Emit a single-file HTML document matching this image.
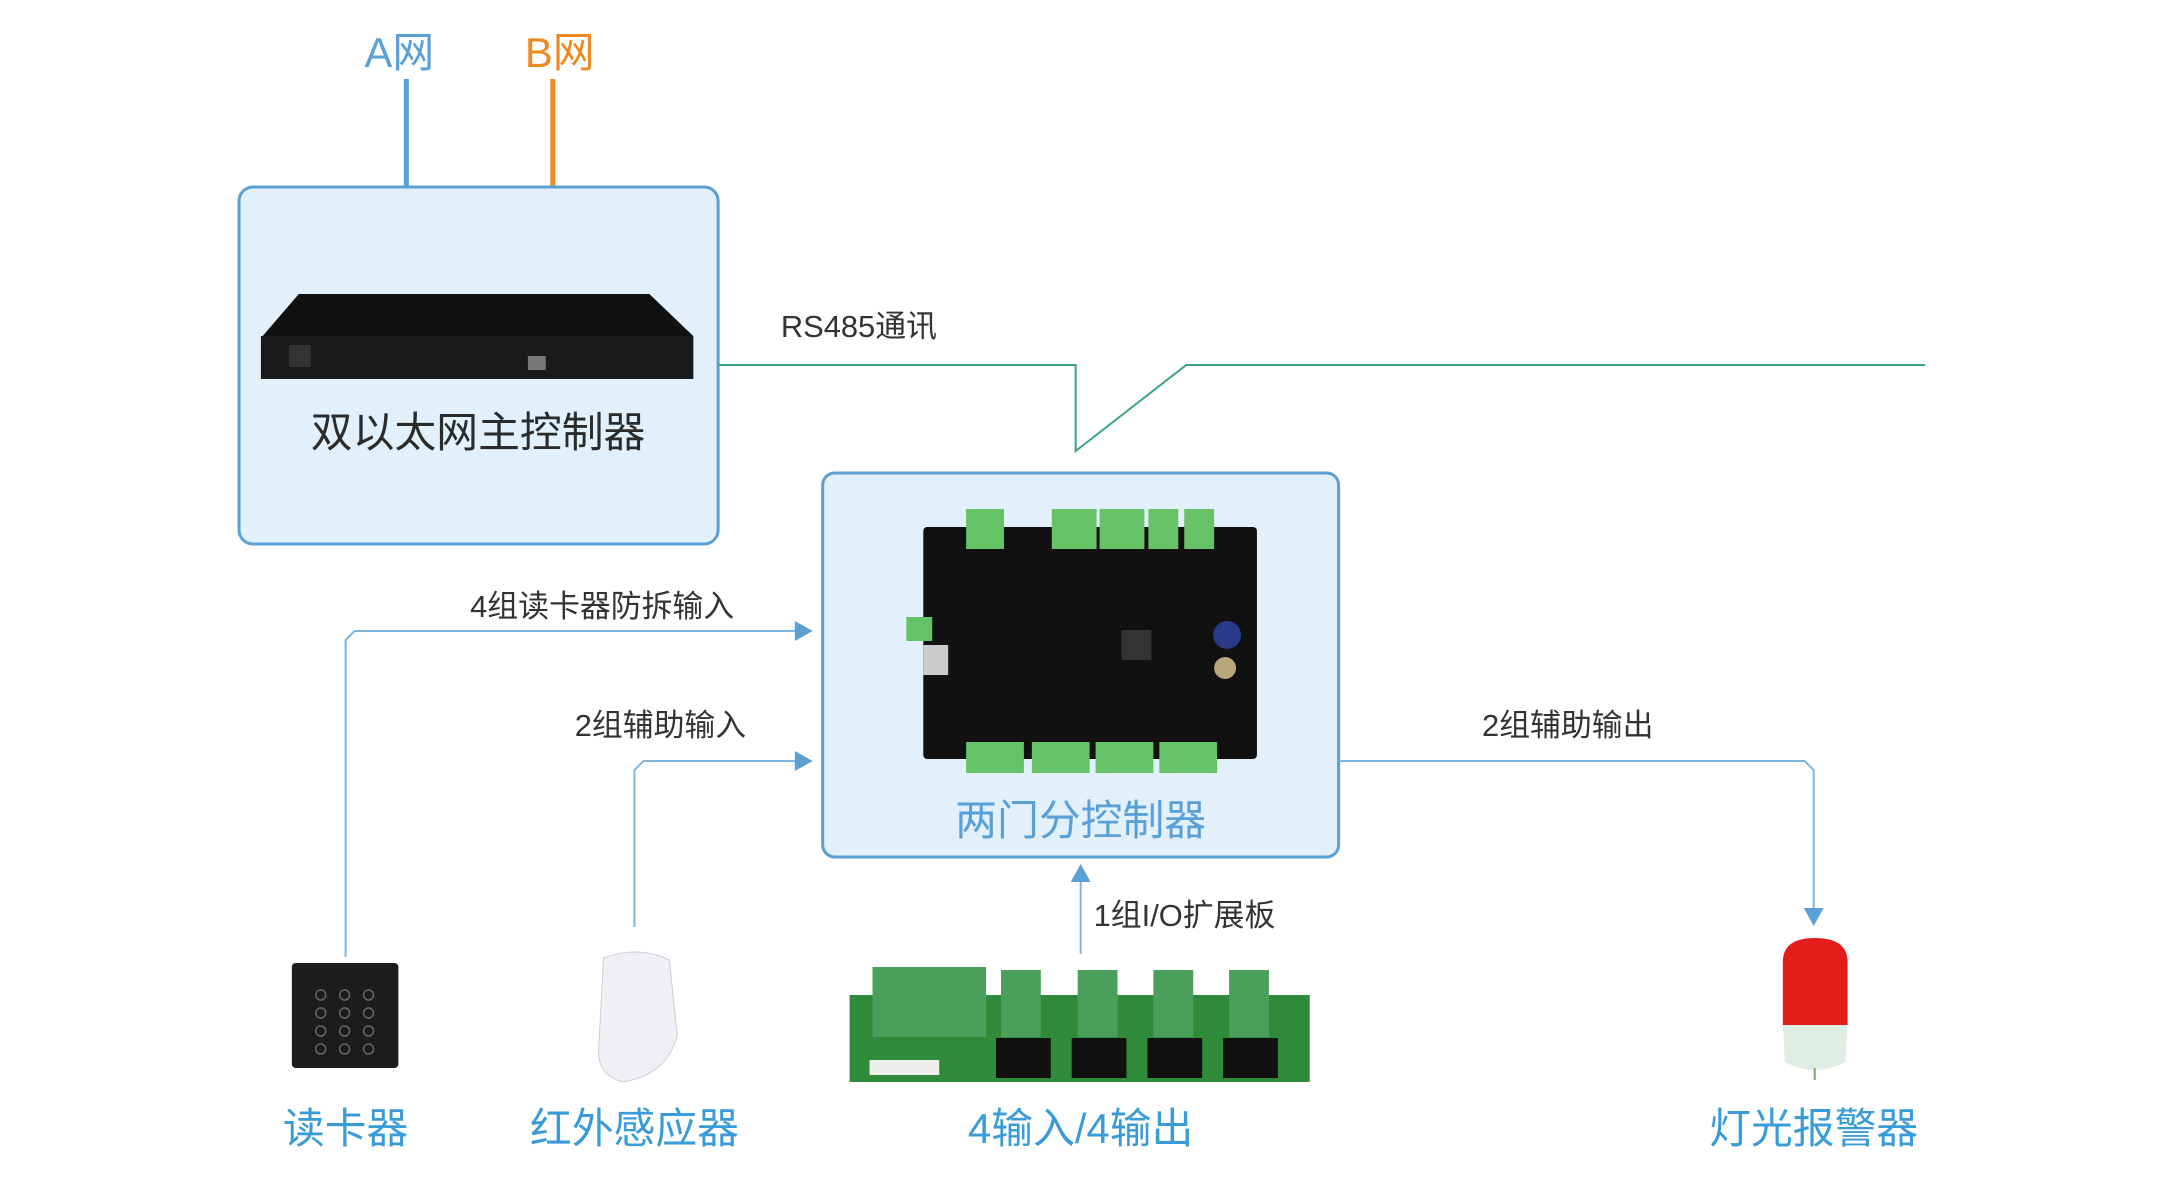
<!DOCTYPE html>
<html><head><meta charset="utf-8"><style>
html,body{margin:0;padding:0;background:#fff;}
svg{display:block;}
text{font-family:"Liberation Sans","Noto Sans CJK SC",sans-serif;}
</style></head><body>
<svg width="2164" height="1182" viewBox="0 0 2164 1182" xmlns="http://www.w3.org/2000/svg">
<g transform="scale(0.996,1)">
<!-- A/B net -->
<text x="401" y="67" font-size="42" fill="#5a9fd6" text-anchor="middle">A网</text>
<text x="562" y="67" font-size="42" fill="#ee8a22" text-anchor="middle">B网</text>
<line x1="408" y1="79" x2="408" y2="186" stroke="#5a9fd6" stroke-width="5"/>
<line x1="555" y1="79" x2="555" y2="186" stroke="#ee8a22" stroke-width="5"/>
<!-- main box -->
<rect x="240" y="187" width="481" height="357" rx="14" fill="#e1f0fb" stroke="#5a9fd6" stroke-width="3"/>
<polygon points="300,294 652,294 696,336 696,379 262,379 262,338" fill="#111"/>
<rect x="262" y="336" width="434" height="43" fill="#1a1a1a"/>
<rect x="290" y="345" width="22" height="22" fill="#333"/>
<rect x="530" y="356" width="18" height="14" fill="#777"/>
<text x="480" y="447" font-size="42" fill="#2b2b2b" text-anchor="middle">双以太网主控制器</text>
<!-- RS485 -->
<text x="784" y="337" font-size="31" fill="#333">RS485通讯</text>
<polyline points="721,365 1080,365 1080,451 1191,365 1933,365" fill="none" stroke="#3aa57a" stroke-width="2"/>
<!-- sub box -->
<rect x="826" y="473" width="518" height="384" rx="12" fill="#e1f0fb" stroke="#5a9fd6" stroke-width="3"/>
<rect x="927" y="527" width="335" height="232" rx="4" fill="#111"/>
<g fill="#66c266">
<rect x="970" y="509" width="38" height="40"/><rect x="1056" y="509" width="45" height="40"/><rect x="1104" y="509" width="45" height="40"/><rect x="1153" y="509" width="30" height="40"/><rect x="1189" y="509" width="30" height="40"/>
<rect x="970" y="742" width="58" height="31"/><rect x="1036" y="742" width="58" height="31"/><rect x="1100" y="742" width="58" height="31"/><rect x="1164" y="742" width="58" height="31"/>
<rect x="910" y="617" width="26" height="24"/>
</g>
<rect x="927" y="645" width="25" height="30" fill="#ccc"/>
<rect x="1126" y="630" width="30" height="30" fill="#333"/>
<circle cx="1232" cy="635" r="14" fill="#2a3a8a"/><circle cx="1230" cy="668" r="11" fill="#b9a779"/>
<text x="1085" y="835" font-size="42" fill="#5aa0d8" text-anchor="middle">两门分控制器</text>
<!-- input lines -->
<text x="472" y="617" font-size="31" fill="#333">4组读卡器防拆输入</text>
<polyline points="347,957 347,640 356,631 800,631" fill="none" stroke="#7db4e0" stroke-width="2"/>
<polygon points="798,621 816,631 798,641" fill="#5a9fd6"/>
<text x="577" y="736" font-size="31" fill="#333">2组辅助输入</text>
<polyline points="637,927 637,770 646,761 800,761" fill="none" stroke="#7db4e0" stroke-width="2"/>
<polygon points="798,751 816,761 798,771" fill="#5a9fd6"/>
<text x="1488" y="736" font-size="31" fill="#333">2组辅助输出</text>
<polyline points="1344,761 1812,761 1821,770 1821,910" fill="none" stroke="#7db4e0" stroke-width="2"/>
<polygon points="1811,908 1831,908 1821,926" fill="#5a9fd6"/>
<text x="1098" y="926" font-size="31" fill="#333">1组I/O扩展板</text>
<line x1="1085" y1="954" x2="1085" y2="880" stroke="#7db4e0" stroke-width="2"/>
<polygon points="1075,882 1095,882 1085,864" fill="#5a9fd6"/>
<!-- keypad -->
<rect x="293" y="963" width="107" height="105" rx="4" fill="#1c1c1c"/>
<g fill="none" stroke="#666" stroke-width="1.5">
<circle cx="322" cy="995" r="5"/><circle cx="346" cy="995" r="5"/><circle cx="370" cy="995" r="5"/>
<circle cx="322" cy="1013" r="5"/><circle cx="346" cy="1013" r="5"/><circle cx="370" cy="1013" r="5"/>
<circle cx="322" cy="1031" r="5"/><circle cx="346" cy="1031" r="5"/><circle cx="370" cy="1031" r="5"/>
<circle cx="322" cy="1049" r="5"/><circle cx="346" cy="1049" r="5"/><circle cx="370" cy="1049" r="5"/>
</g>
<!-- PIR -->
<path d="M606,958 Q640,945 672,960 L680,1035 Q670,1075 625,1082 Q600,1075 601,1050 Z" fill="#eef0f4" stroke="#ccd" stroke-width="1"/>
<!-- IO board -->
<rect x="853" y="995" width="462" height="87" fill="#2f8a3a"/>
<g fill="#4aa05a">
<rect x="876" y="967" width="114" height="70"/><rect x="1005" y="970" width="40" height="67"/><rect x="1082" y="970" width="40" height="67"/><rect x="1158" y="970" width="40" height="67"/><rect x="1234" y="970" width="40" height="67"/>
</g>
<g fill="#111">
<rect x="1000" y="1038" width="55" height="40"/><rect x="1076" y="1038" width="55" height="40"/><rect x="1152" y="1038" width="55" height="40"/><rect x="1228" y="1038" width="55" height="40"/>
</g>
<rect x="873" y="1060" width="70" height="15" fill="#eee"/>
<!-- alarm light -->
<path d="M1790,1000 L1790,962 Q1790,938 1822,938 Q1855,938 1855,962 L1855,1025 L1790,1025 Z" fill="#e51c1c"/>
<path d="M1790,1025 L1855,1025 L1853,1062 Q1822,1078 1792,1062 Z" fill="#dfeee2"/>
<line x1="1822" y1="1068" x2="1822" y2="1080" stroke="#7a6" stroke-width="2"/>
<!-- bottom labels -->
<g font-size="42" fill="#3a9bd9" text-anchor="middle">
<text x="347" y="1143">读卡器</text>
<text x="637" y="1143">红外感应器</text>
<text x="1085" y="1143">4输入/4输出</text>
<text x="1821" y="1143">灯光报警器</text>
</g>
</g>
</svg>
</body></html>
